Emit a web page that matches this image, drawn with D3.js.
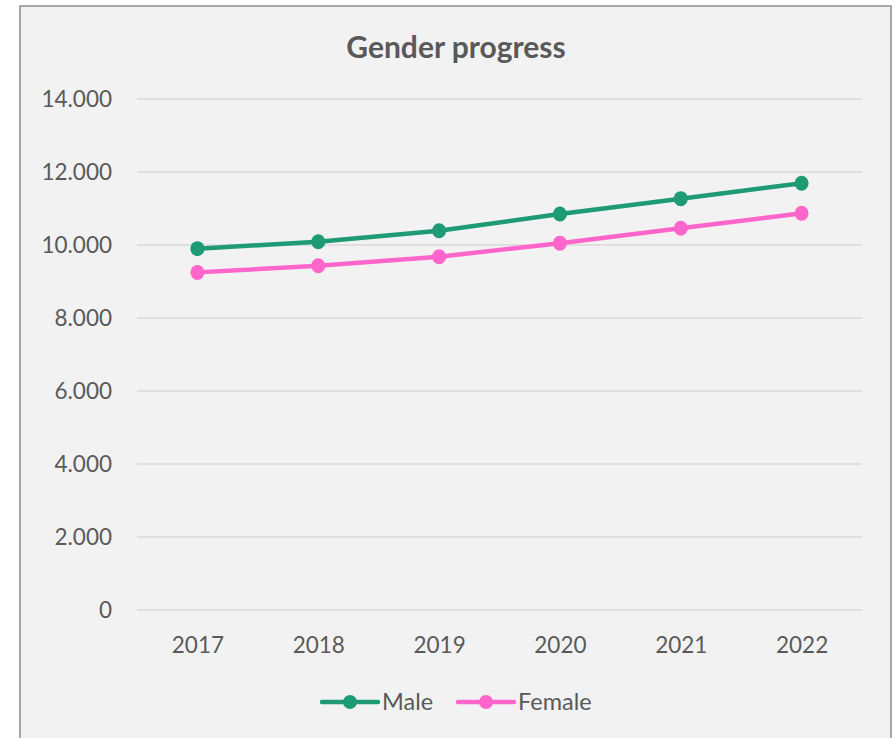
<!DOCTYPE html>
<html>
<head>
<meta charset="utf-8">
<script src="https://cdn.jsdelivr.net/npm/d3@7"></script>
<style>
  body { margin: 0; background: #fff; }
  text { font-family: Lato, "Open Sans", sans-serif; fill: #595959; }
</style>
</head>
<body>
<div id="chart"></div>
<script>
// chart data
const years = ["2017", "2018", "2019", "2020", "2021", "2022"];
const male = [9900, 10090, 10390, 10850, 11270, 11690];
const female = [9250, 9430, 9680, 10050, 10460, 10870];
const yTicks = [0, 2000, 4000, 6000, 8000, 10000, 12000, 14000];

const seriesList = [
    {name: "Male", values: male, color: "#1e9b74"},
    {name: "Female", values: female, color: "#ff66cc"}
];

let width = 895, height = 738;
let margin = {top: 99, right: 33, bottom: 128, left: 137};

let svg = d3.select("#chart")
    .append("svg")
    .attr("width", width)
    .attr("height", height);

// chart frame
svg.append("rect")
    .attr("x", 20).attr("y", 6)
    .attr("width", 871).attr("height", 740)
    .attr("fill", "#f2f2f2")
    .attr("stroke", "#8c8c8c")
    .attr("stroke-width", 1.5);

// title
svg.append("text")
    .attr("x", 456).attr("y", 58)
    .attr("text-anchor", "middle")
    .style("font-size", "30px")
    .style("font-weight", "bold")
    .text("Gender progress");

const X_SCALE = d3.scalePoint()
    .domain(years)
    .range([margin.left, width - margin.right])
    .padding(0.5);

const Y_SCALE = d3.scaleLinear()
    .domain([0, 14000])
    .range([height - margin.bottom, margin.top]);

// gridlines
svg.append("g")
    .selectAll("line")
    .data(yTicks)
    .enter()
    .append("line")
    .attr("x1", margin.left)
    .attr("x2", width - margin.right)
    .attr("y1", d => Y_SCALE(d))
    .attr("y2", d => Y_SCALE(d))
    .attr("stroke", "#d9d9d9")
    .attr("stroke-width", 1.5);

// y axis labels
let yAxis = svg.append("g")
    .attr("transform", "translate(" + (margin.left - 25) + ",0)")
    .call(d3.axisLeft(Y_SCALE).tickValues(yTicks).tickSize(0)
        .tickFormat(d => d === 0 ? "0" : d3.format(",")(d).replace(",", ".")));
yAxis.select(".domain").remove();
yAxis.selectAll("text")
    .attr("x", 0)
    .style("font-size", "22.5px")
    .style("font-family", "Lato, 'Open Sans', sans-serif")
    .attr("fill", "#595959");

// x axis labels
let xAxis = svg.append("g")
    .attr("transform", "translate(0," + (height - margin.bottom + 24) + ")")
    .call(d3.axisBottom(X_SCALE).tickSize(0));
xAxis.select(".domain").remove();
xAxis.selectAll("text")
    .style("font-size", "22.5px")
    .style("font-family", "Lato, 'Open Sans', sans-serif")
    .attr("fill", "#595959");

// lines and markers
let line = d3.line()
    .x((d, i) => X_SCALE(years[i]))
    .y(d => Y_SCALE(d));

seriesList.forEach(s => {
    svg.append("path")
        .datum(s.values)
        .attr("d", line)
        .attr("fill", "none")
        .attr("stroke", s.color)
        .attr("stroke-width", 4.5)
        .attr("stroke-linejoin", "round");

    svg.append("g")
        .selectAll("ellipse")
        .data(s.values)
        .enter()
        .append("ellipse")
        .attr("cx", (d, i) => X_SCALE(years[i]))
        .attr("cy", d => Y_SCALE(d))
        .attr("rx", 7)
        .attr("ry", 7.5)
        .attr("fill", s.color);
});

// legend
let legendX = [322, 458];
seriesList.forEach((s, i) => {
    let g = svg.append("g").attr("transform", "translate(" + legendX[i] + ",702)");
    g.append("line")
        .attr("x1", 0).attr("x2", 56)
        .attr("stroke", s.color)
        .attr("stroke-width", 4.5)
        .attr("stroke-linecap", "round");
    g.append("circle")
        .attr("cx", 28).attr("r", 7)
        .attr("fill", s.color);
    g.append("text")
        .attr("x", 60).attr("y", 8)
        .style("font-size", "23.5px")
        .text(s.name);
});
</script>
</body>
</html>
